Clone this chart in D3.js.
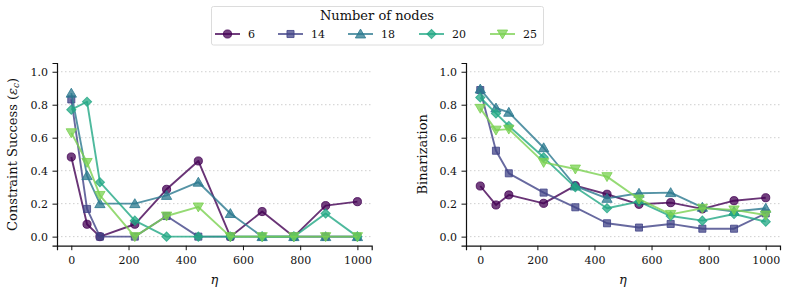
<!DOCTYPE html>
<html><head><meta charset="utf-8">
<script src="https://cdn.jsdelivr.net/npm/d3@7"></script>
<style>body{margin:0;background:#fff}svg text{font-family:"DejaVu Serif",serif;fill:#111}</style>
</head><body><svg id="c" width="787" height="294"></svg>
<script>
const etas = [0, 55, 100, 222, 333, 444, 556, 667, 778, 889, 1000];
const nodeCounts = ["6", "14", "18", "20", "25"];
const colors = ["#440154", "#414487", "#2a788e", "#22a884", "#7ad151"];
const markers = ["circle", "square", "triangleUp", "diamond", "triangleDown"];
const constraint6  = [0.483, 0.075, 0, 0.075, 0.287, 0.459, 0, 0.152, 0, 0.188, 0.212];
const constraint14 = [0.832, 0.168, 0, 0, 0.125, 0, 0, 0, 0, 0, 0];
const constraint18 = [0.87, 0.37, 0.2, 0.2, 0.25, 0.33, 0.14, 0, 0, 0, 0];
const constraint20 = [0.77, 0.818, 0.33, 0.097, 0, 0, 0, 0, 0, 0.14, 0];
const constraint25 = [0.63, 0.45, 0.25, 0, 0.125, 0.18, 0, 0, 0, 0, 0];
const binar6  = [0.307, 0.192, 0.253, 0.202, 0.309, 0.257, 0.196, 0.206, 0.168, 0.218, 0.236];
const binar14 = [0.889, 0.521, 0.384, 0.267, 0.178, 0.081, 0.055, 0.077, 0.048, 0.048, 0.141];
const binar18 = [0.895, 0.78, 0.754, 0.539, 0.307, 0.232, 0.263, 0.267, 0.178, 0.152, 0.172];
const binar20 = [0.844, 0.747, 0.671, 0.481, 0.299, 0.172, 0.212, 0.125, 0.097, 0.137, 0.091];
const binar25 = [0.778, 0.646, 0.652, 0.45, 0.41, 0.364, 0.228, 0.135, 0.172, 0.162, 0.131];
const xTicks = [0, 200, 400, 600, 800, 1000];
const yTicks = [0, 0.2, 0.4, 0.6, 0.8, 1.0];

const svg = d3.select("#c");
const symbolMap = {
  circle: d3.symbol().type(d3.symbolCircle).size(52),
  square: d3.symbol().type(d3.symbolSquare).size(50),
  diamond: d3.symbol().type(d3.symbolSquare).size(42),
  triangleUp: d3.symbol().type(d3.symbolTriangle).size(46),
  triangleDown: d3.symbol().type(d3.symbolTriangle).size(46)
};
function drawMarker(g, kind, x, y, color) {
  const p = g.append("path").attr("d", symbolMap[kind]())
    .attr("fill", color).attr("fill-opacity", 0.75)
    .attr("stroke", color).attr("stroke-opacity", 0.8).attr("stroke-width", 1);
  let t = `translate(${x},${y})`;
  if (kind === "triangleDown") t += " rotate(180)";
  if (kind === "diamond") t += " rotate(45)";
  if (kind === "triangleUp" || kind === "triangleDown") t += " translate(0,1)";
  p.attr("transform", t);
}

function panel(left, right, top, bottom, series, ylabOffset) {
  const x = d3.scaleLinear().domain([-50, 1050]).range([left, right]);
  const y = d3.scaleLinear().domain([-0.055, 1.053]).range([bottom, top]);
  const g = svg.append("g");
  g.selectAll(".grid").data(yTicks).join("line")
    .attr("x1", left).attr("x2", right)
    .attr("y1", d => y(d)).attr("y2", d => y(d))
    .attr("stroke", "#cfcfcf").attr("stroke-width", 1).attr("stroke-dasharray", "1.5,2.5");
  const xa = g.append("g").attr("transform", `translate(0,${bottom})`)
    .call(d3.axisBottom(x).tickValues(xTicks).tickFormat(d3.format("d")).tickSizeOuter(0).tickSize(4.5).tickPadding(6));
  const ya = g.append("g").attr("transform", `translate(${left},0)`)
    .call(d3.axisLeft(y).tickValues(yTicks).tickFormat(d3.format(".1f")).tickSizeOuter(0).tickSize(4.5).tickPadding(4.5));
  [xa, ya].forEach(a => {
    a.select(".domain").attr("stroke", "#111").attr("stroke-width", 1.2);
    a.selectAll(".tick line").attr("stroke", "#111").attr("stroke-width", 1);
    a.selectAll(".tick text").attr("font-family", "DejaVu Serif").attr("font-size", 11).attr("fill", "#111");
  });
  const line = d3.line().x((d, i) => x(etas[i])).y(d => y(d));
  series.forEach((vals, k) => {
    g.append("path").datum(vals).attr("d", line)
      .attr("fill", "none").attr("stroke", colors[k]).attr("stroke-opacity", 0.8)
      .attr("stroke-width", 1.9).attr("stroke-linejoin", "round");
    vals.forEach((v, i) => drawMarker(g, markers[k], x(etas[i]), y(v), colors[k]));
  });
  svg.append("text").attr("x", (left + right) / 2).attr("y", 284)
    .attr("text-anchor", "middle").attr("font-size", 13).attr("font-style", "italic").text("η");
  return svg.append("text").attr("transform", `translate(${left - ylabOffset},${(top + bottom) / 2}) rotate(-90)`)
    .attr("text-anchor", "middle").attr("font-size", 13);
}

const yl1 = panel(57, 371.7, 63, 245.7,
  [constraint6, constraint14, constraint18, constraint20, constraint25], 40.5);
yl1.text("Constraint Success (");
yl1.append("tspan").attr("font-style", "italic").text("ε");
yl1.append("tspan").attr("font-style", "italic").attr("font-size", 9).attr("dy", 2).text("c");
yl1.append("tspan").attr("dy", -2).text(")");
const yl2 = panel(466, 780, 63, 245.7,
  [binar6, binar14, binar18, binar20, binar25], 39.5);
yl2.text("Binarization");

const lg = svg.append("g");
lg.append("rect").attr("x", 211.5).attr("y", 6.5).attr("width", 332).attr("height", 38.5)
  .attr("rx", 2).attr("fill", "#fff").attr("stroke", "#dcdcdc").attr("stroke-width", 1);
lg.append("text").attr("x", 377).attr("y", 20).attr("text-anchor", "middle").attr("font-size", 13).text("Number of nodes");
const legX = [215, 278, 348, 419, 490];
nodeCounts.forEach((n, k) => {
  const x0 = legX[k];
  lg.append("line").attr("x1", x0).attr("x2", x0 + 25).attr("y1", 34).attr("y2", 34)
    .attr("stroke", colors[k]).attr("stroke-opacity", 0.8).attr("stroke-width", 1.9);
  drawMarker(lg, markers[k], x0 + 12.5, 34, colors[k]);
  lg.append("text").attr("x", x0 + 33).attr("y", 38).attr("font-size", 11).text(n);
});
</script></body></html>
